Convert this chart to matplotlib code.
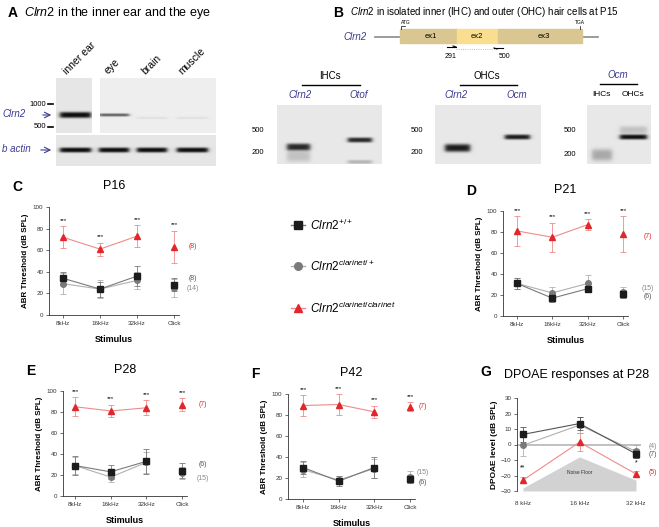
import matplotlib
matplotlib.use('Agg')
import matplotlib.pyplot as plt
import numpy as np
from matplotlib.patches import Rectangle

plt.rcParams['font.family'] = ['Liberation Sans', 'DejaVu Sans']
plt.rcParams['mathtext.fontset'] = 'custom'
plt.rcParams['mathtext.it'] = 'Liberation Sans:italic'
plt.rcParams['mathtext.rm'] = 'Liberation Sans'

W, H = 659, 527
BLUE = '#3b3b92'
RED = '#e3262b'
RED_L = '#f08a8a'
BLACK = '#1c1c1c'
GRAY = '#7a7a7a'
GRAY_L = '#b0b0b0'

# ---------------- data ----------------
stimuli = ['8kHz', '16kHz', '32kHz', 'Click']
dp_freqs = ['8 kHz', '16 kHz', '32 kHz']

p16_wt = [34, 24, 36, 28]
p16_wt_err = [6, 7, 9, 6]
p16_het = [29, 24, 32, 25]
p16_het_err = [10, 8, 8, 8]
p16_hom = [72, 61, 73, 63]
p16_hom_err = [10, 6, 10, 15]

p21_wt = [31, 17, 26, 21]
p21_wt_err = [5, 4, 3, 4]
p21_het = [31, 22, 31, 23]
p21_het_err = [5, 6, 8, 5]
p21_hom = [81, 75, 87, 78]
p21_hom_err = [14, 14, 5, 17]

p28_wt = [29, 23, 33, 24]
p28_wt_err = [9, 7, 12, 7]
p28_het = [29, 18, 32, 22]
p28_het_err = [8, 5, 10, 6]
p28_hom = [85, 81, 84, 87]
p28_hom_err = [9, 6, 7, 6]

p42_wt = [30, 17, 30, 19]
p42_wt_err = [6, 5, 10, 4]
p42_het = [28, 18, 29, 21]
p42_het_err = [7, 4, 9, 6]
p42_hom = [89, 90, 83, 88]
p42_hom_err = [10, 10, 6, 4]

dp_wt = [6.5, 13.5, -6]
dp_wt_err = [5, 4, 3]
dp_het = [-0.5, 12.5, -4.5]
dp_het_err = [7, 5, 4]
dp_hom = [-23, 1.5, -19]
dp_hom_err = [2, 6, 2]
noise_floor = [-28, -8, -23]

# gel bands: (x start, x end, y centre, height, darkness) in figure pixels
gelA_top_lane1 = [(60, 91, 115, 6, 0.85)]
gelA_top_rest = [(99, 129, 115, 3, 0.55), (137, 167, 118, 2, 0.06), (177, 208, 118, 2, 0.06)]
gelA_bottom = [(60, 91, 150, 5, 0.85), (99, 129, 150, 5, 0.85),
               (137, 167, 150, 5, 0.85), (177, 208, 150, 5, 0.85)]
gel_ihc = [(287, 310, 147, 7, 0.75), (287, 310, 156, 12, 0.15),
           (348, 372, 140, 5, 0.75), (348, 372, 162, 4, 0.2)]
gel_ohc = [(445, 470, 148, 8, 0.8), (505, 530, 137, 5, 0.8)]
gel_ocm = [(592, 612, 155, 12, 0.25), (620, 647, 137, 5, 0.85), (620, 647, 130, 8, 0.15)]

fig = plt.figure(figsize=(W / 100, H / 100), dpi=100)
cv = fig.add_axes([0, 0, 1, 1])
cv.set_xlim(0, W)
cv.set_ylim(H, 0)
cv.axis('off')


def gel(x0, x1, y0, y1, bands, bg=0.91):
    xs = np.linspace(x0, x1, int((x1 - x0) * 4))
    ys = np.linspace(y0, y1, int((y1 - y0) * 4))
    X, Y = np.meshgrid(xs, ys)
    img = np.full(X.shape, bg)
    for bx0, bx1, by, bh, dark in bands:
        px = 1 / (1 + np.exp(-(X - bx0) / 1.2)) / (1 + np.exp((X - bx1) / 1.2))
        py = np.exp(-np.abs((Y - by) / (bh / 2)) ** 3)
        img -= dark * px * py
    cv.imshow(np.clip(img, 0, 1), cmap='gray', vmin=0, vmax=1,
              extent=(x0, x1, y1, y0), aspect='auto', interpolation='bilinear')


# ---------------- panel A ----------------
cv.text(8, 13, 'A', fontsize=10, fontweight='bold', va='center')
cv.text(24, 13, r'$\it{Clrn2}$ in the inner ear and the eye', fontsize=9, va='center')
for lab, x in zip(['inner ear', 'eye', 'brain', 'muscle'], [68, 110, 147, 184]):
    cv.text(x, 76, lab, fontsize=7.5, rotation=45, rotation_mode='anchor',
            ha='left', va='bottom')
gel(56, 92, 78, 133, gelA_top_lane1, bg=0.9)
gel(100, 216, 78, 133, gelA_top_rest, bg=0.93)
gel(56, 216, 135, 166, gelA_bottom, bg=0.9)
cv.text(46, 104, '1000', fontsize=5.5, ha='right', va='center')
cv.plot([48, 53], [104, 104], color='k', lw=1.2)
cv.text(46, 127, '500', fontsize=5.5, ha='right', va='center')
cv.plot([48, 53], [127, 127], color='k', lw=1.2)
cv.text(2, 114, 'Clrn2', fontsize=7, style='italic', color=BLUE, va='center')
cv.annotate('', xy=(54, 115), xytext=(40, 115),
            arrowprops=dict(arrowstyle='->', color=BLUE, lw=0.8))
cv.text(2, 149, 'b actin', fontsize=7, style='italic', color=BLUE, va='center')
cv.annotate('', xy=(54, 150), xytext=(38, 150),
            arrowprops=dict(arrowstyle='->', color=BLUE, lw=0.8))

# ---------------- panel B ----------------
cv.text(333, 13, 'B', fontsize=10, fontweight='bold', va='center')
cv.text(350, 12, r'$\it{Clrn2}$ in isolated inner (IHC) and outer (OHC) hair cells at P15',
        fontsize=7, va='center')
cv.text(355, 37, 'Clrn2', fontsize=7, style='italic', color=BLUE, ha='center', va='center')
cv.plot([375, 598], [37, 37], color='#8a8a8a', lw=1.2, zorder=1)
cv.add_patch(Rectangle((400, 29), 57, 14, color='#dac690', zorder=2))
cv.add_patch(Rectangle((457, 29), 41, 14, color='#f8de8e', zorder=2))
cv.add_patch(Rectangle((498, 29), 84, 14, color='#dac690', zorder=2))
for lab, x in zip(['ex1', 'ex2', 'ex3'], [431, 477, 544]):
    cv.text(x, 36, lab, fontsize=5.5, ha='center', va='center', zorder=3)
cv.plot([401, 401, 405], [29, 26, 26], color='k', lw=0.5)
cv.text(401, 25, 'ATG', fontsize=3.5, ha='left', va='bottom')
cv.plot([580, 580], [29, 26], color='k', lw=0.5)
cv.text(580, 25, 'TGA', fontsize=3.5, ha='center', va='bottom')
cv.plot([447, 456], [47, 47], color='k', lw=0.8)
cv.plot([453, 456], [46, 47], color='k', lw=0.8)
cv.plot([494, 503], [48, 48], color='k', lw=0.8)
cv.plot([494, 497], [48, 49], color='k', lw=0.8)
cv.plot([456, 494], [48.5, 48.5], color='#aaaaaa', lw=0.6, ls=':')
cv.text(451, 57, '291', fontsize=5, ha='center', va='center')
cv.text(505, 57, '500', fontsize=5, ha='center', va='center')

cv.text(330, 76, 'IHCs', fontsize=7, ha='center', va='center')
cv.plot([302, 360], [85, 85], color='k', lw=1)
cv.text(300, 95, 'Clrn2', fontsize=7, style='italic', color=BLUE, ha='center', va='center')
cv.text(359, 95, 'Otof', fontsize=7, style='italic', color=BLUE, ha='center', va='center')
gel(277, 382, 105, 164, gel_ihc)
cv.text(258, 131, '500', fontsize=5.5, ha='center', va='center')
cv.text(258, 152, '200', fontsize=5.5, ha='center', va='center')

cv.text(487, 76, 'OHCs', fontsize=7, ha='center', va='center')
cv.plot([460, 517], [85, 85], color='k', lw=1)
cv.text(456, 95, 'Clrn2', fontsize=7, style='italic', color=BLUE, ha='center', va='center')
cv.text(517, 95, 'Ocm', fontsize=7, style='italic', color=BLUE, ha='center', va='center')
gel(435, 541, 105, 164, gel_ohc)
cv.text(417, 131, '500', fontsize=5.5, ha='center', va='center')
cv.text(417, 152, '200', fontsize=5.5, ha='center', va='center')

cv.text(618, 75, 'Ocm', fontsize=7, style='italic', color=BLUE, ha='center', va='center')
cv.plot([600, 637], [84, 84], color='k', lw=1)
cv.text(601, 95, 'IHCs', fontsize=6, ha='center', va='center')
cv.text(633, 95, 'OHCs', fontsize=6, ha='center', va='center')
gel(587, 651, 105, 164, gel_ocm)
cv.text(570, 131, '500', fontsize=5.5, ha='center', va='center')
cv.text(570, 154, '200', fontsize=5.5, ha='center', va='center')

# ---------------- legend ----------------
leg = [('s', BLACK, GRAY, 225, r'$\it{Clrn2}^{\it{+/+}}$'),
       ('o', GRAY, GRAY_L, 266, r'$\it{Clrn2}^{\it{clarinet/+}}$'),
       ('^', RED, RED_L, 308, r'$\it{Clrn2}^{\it{clarinet/clarinet}}$')]
for m, c, lc, y, lab in leg:
    cv.plot([291, 305], [y, y], color=lc, lw=1)
    cv.plot([298], [y], marker=m, color=c, ms=5.5, ls='none')
    cv.text(310, y, lab, fontsize=8.5, va='center')


# ---------------- ABR panels ----------------
def px_axes(x0, x1, ytop, ybot):
    return fig.add_axes([x0 / W, 1 - ybot / H, (x1 - x0) / W, (ybot - ytop) / H])


def style(ax):
    for s in ['top', 'right']:
        ax.spines[s].set_visible(False)
    for s in ['left', 'bottom']:
        ax.spines[s].set_linewidth(0.6)
        ax.spines[s].set_color('#333333')
    ax.tick_params(labelsize=4.5, width=0.5, length=2.5, pad=1.5, colors='#333333')


def abr(box, ticks, wt, wt_e, het, het_e, hom, hom_e, letter, title, counts):
    x0, x1, ytop, ybot = box
    ax = px_axes(*box)
    sp = (ticks[1] - ticks[0]) / 3
    ax.set_xlim(-(ticks[0] - x0) / sp, 3 + (x1 - ticks[1]) / sp)
    ax.set_ylim(0, 100)
    xs = np.arange(4)
    for vals, errs, m, c, lc, ms in [(het, het_e, 'o', GRAY, GRAY_L, 4),
                                     (wt, wt_e, 's', BLACK, GRAY, 4),
                                     (hom, hom_e, '^', RED, RED_L, 4)]:
        ax.plot(xs[:3], vals[:3], color=lc, lw=0.8, zorder=2)
        ax.errorbar(xs, vals, yerr=errs, fmt='none', ecolor=lc, elinewidth=0.6,
                    capsize=2, capthick=0.6, zorder=2)
        ax.plot(xs, vals, marker=m, color=c, ms=ms, ls='none', zorder=3)
    for i in range(4):
        ax.text(i, hom[i] + hom_e[i] + 3, '***', fontsize=4.5, ha='center',
                va='bottom', clip_on=False)
    style(ax)
    ax.set_yticks([0, 20, 40, 60, 80, 100])
    ax.set_xticks(xs)
    ax.set_xticklabels(stimuli)
    ax.set_ylabel('ABR Threshold (dB SPL)', fontsize=5.8, fontweight='bold', labelpad=3)
    ax.set_xlabel('Stimulus', fontsize=6.5, fontweight='bold', labelpad=7)
    cv.text(x0 - 37, ytop - 20, letter, fontsize=10, fontweight='bold', va='center')
    cv.text((x0 + x1) / 2, ytop - 21, title, fontsize=9, ha='center', va='center')
    for (cx, cy, t, col) in counts:
        cv.text(cx, cy, t, fontsize=5, color=col, ha='center', va='center')
    return ax


abr((49, 179, 207, 315), (63, 174), p16_wt, p16_wt_err, p16_het, p16_het_err,
    p16_hom, p16_hom_err, 'C', 'P16',
    [(193, 246, '(8)', RED), (193, 278, '(8)', '#555555'), (193, 289, '(14)', '#888888')])
abr((503, 628, 211, 316), (517, 623), p21_wt, p21_wt_err, p21_het, p21_het_err,
    p21_hom, p21_hom_err, 'D', 'P21',
    [(648, 236, '(7)', RED), (648, 288, '(15)', '#888888'), (648, 297, '(6)', '#555555')])
abr((63, 187, 391, 496), (75, 182), p28_wt, p28_wt_err, p28_het, p28_het_err,
    p28_hom, p28_hom_err, 'E', 'P28',
    [(203, 405, '(7)', RED), (203, 465, '(6)', '#555555'), (203, 478, '(15)', '#888888')])
abr((288, 415, 394, 499), (303, 410), p42_wt, p42_wt_err, p42_het, p42_het_err,
    p42_hom, p42_hom_err, 'F', 'P42',
    [(423, 407, '(7)', RED), (423, 473, '(15)', '#888888'), (423, 483, '(6)', '#555555')])

# ---------------- panel G ----------------
ax = px_axes(517, 641, 398, 491)
sp = (636 - 523) / 2
ax.set_xlim(-(523 - 517) / sp, 2 + (641 - 636) / sp)
ax.set_ylim(-30, 30)
xs = np.arange(3)
ax.fill_between(xs, [-30, -30, -30], noise_floor, color='#d2d2d2', lw=0, zorder=1)
ax.text(1, -18, 'Noise Floor', fontsize=3.5, ha='center', va='center', color='#333333')
ax.axhline(0, color='#b5b5b5', lw=1.2, zorder=1)
for vals, errs, m, c, lc in [(dp_het, dp_het_err, 'o', GRAY, GRAY_L),
                             (dp_wt, dp_wt_err, 's', BLACK, '#555555'),
                             (dp_hom, dp_hom_err, '^', RED, RED_L)]:
    ax.plot(xs, vals, color=lc, lw=0.8, zorder=2)
    ax.errorbar(xs, vals, yerr=errs, fmt='none', ecolor=lc, elinewidth=0.6,
                capsize=2, capthick=0.6, zorder=2)
    ax.plot(xs, vals, marker=m, color=c, ms=4, ls='none', zorder=3)
ax.text(0, -15, '**', fontsize=5, ha='center', va='center')
ax.text(2, -12, '*', fontsize=5, ha='center', va='center')
style(ax)
ax.spines['bottom'].set_visible(False)
ax.set_yticks([-30, -20, -10, 0, 10, 20, 30])
ax.set_xticks(xs)
ax.set_xticklabels(dp_freqs)
ax.tick_params(axis='x', length=0, pad=7)
ax.set_ylabel('DPOAE level (dB SPL)', fontsize=6, fontweight='bold', labelpad=2)
cv.text(480, 372, 'G', fontsize=10, fontweight='bold', va='center')
cv.text(577, 375, 'DPOAE responses at P28', fontsize=9, ha='center', va='center')
for cy, t, col in [(446, '(4)', '#888888'), (454, '(7)', '#555555'), (473, '(5)', RED)]:
    cv.text(653, cy, t, fontsize=5, color=col, ha='center', va='center')

fig.savefig('out.png', dpi=100)
